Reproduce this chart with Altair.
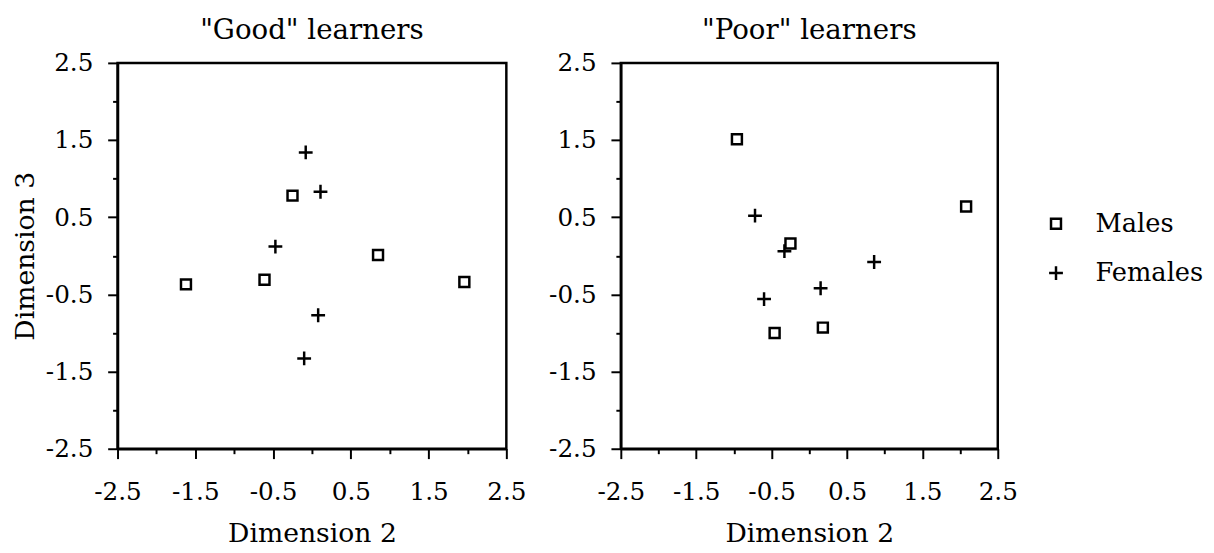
import altair as alt
import pandas as pd

# ---- data ----
series = ["Males", "Females"]

good_male_x = [-1.62, -0.61, -0.25, 0.85, 1.96]
good_male_y = [-0.37, -0.31, 0.78, 0.01, -0.34]
good_female_x = [-0.08, 0.11, -0.47, 0.08, -0.10]
good_female_y = [1.34, 0.83, 0.12, -0.77, -1.33]

poor_male_x = [-0.96, -0.25, -0.46, 0.18, 2.08]
poor_male_y = [1.51, 0.16, -1.00, -0.93, 0.64]
poor_female_x = [-0.72, -0.33, -0.60, 0.15, 0.86]
poor_female_y = [0.52, 0.06, -0.56, -0.42, -0.08]

tick_values = [-2.5, -2.0, -1.5, -1.0, -0.5, 0.0, 0.5, 1.0, 1.5, 2.0, 2.5]
major_values = [-2.5, -1.5, -0.5, 0.5, 1.5, 2.5]

FONT = "DejaVu Serif"
SQUARE = "M-0.72,-0.72H0.72V0.72H-0.72Z"
PLUS = "M-1,0H1M0,-1V1"


def panel_df(mx, my, fx, fy):
    rows = [{"d2": x, "d3": y, "sex": series[0]} for x, y in zip(mx, my)]
    rows += [{"d2": x, "d3": y, "sex": series[1]} for x, y in zip(fx, fy)]
    return pd.DataFrame(rows)


major_list = "[" + ",".join(str(v) for v in major_values) + "]"
is_major = f"indexof({major_list}, datum.value) >= 0"
label_expr = (
    f"{is_major} ? (datum.value < 0 ? '-' + format(-datum.value, '.1f') : "
    "format(datum.value, '.1f')) : ''"
)
tick_size = {"condition": {"test": is_major, "value": 10}, "value": 5}

axis_style = dict(
    values=tick_values, labelExpr=label_expr, tickSize=tick_size,
    labelFlush=False, labelOverlap=False, grid=False,
    labelFont=FONT, labelFontSize=25, labelColor="black",
    titleFont=FONT, titleFontSize=27, titleFontWeight="normal",
    titleColor="black", domainColor="black", domainWidth=2.5,
    tickColor="black", tickWidth=2,
)


def make_panel(df, title, ytitle, width, height, legend):
    x_axis = alt.Axis(title="Dimension 2", labelPadding=21, titlePadding=17,
                      **axis_style)
    if ytitle:
        y_axis = alt.Axis(title=ytitle, labelPadding=15, titlePadding=6,
                          **axis_style)
    else:
        y_axis = alt.Axis(title=None, labelPadding=15, **axis_style)
    scale = alt.Scale(domain=[-2.5, 2.5], nice=False, zero=False)
    return (
        alt.Chart(df)
        .mark_point(filled=False, color="black", strokeWidth=2.5, size=196, opacity=1)
        .encode(
            x=alt.X("d2:Q", scale=scale, axis=x_axis),
            y=alt.Y("d3:Q", scale=scale, axis=y_axis),
            shape=alt.Shape(
                "sex:N",
                scale=alt.Scale(domain=series, range=[SQUARE, PLUS]),
                legend=legend,
            ),
        )
        .properties(
            width=width, height=height,
            title=alt.TitleParams(
                title, font=FONT, fontSize=28, fontWeight="normal",
                color="black", offset=6, anchor="middle",
            ),
        )
    )


legend = alt.Legend(
    title=None, orient="none", legendX=428, legendY=150,
    labelFont=FONT, labelFontSize=26, labelColor="black",
    symbolSize=196, symbolStrokeWidth=2.5, symbolStrokeColor="black",
    symbolFillColor="transparent", rowPadding=24, labelOffset=27, padding=0,
)

left = make_panel(
    panel_df(good_male_x, good_male_y, good_female_x, good_female_y),
    '"Good" learners', "Dimension 3", 394, 391, None,
)
right = make_panel(
    panel_df(poor_male_x, poor_male_y, poor_female_x, poor_female_y),
    '"Poor" learners', None, 382, 391, legend,
)

chart = (
    alt.hconcat(left, right, spacing=19)
    .resolve_scale(shape="independent")
    .properties(padding={"left": 2, "top": 4, "right": 0, "bottom": 0})
    .configure_view(stroke="black", strokeWidth=2.5)
)

chart.save("out.html", embed_options={"renderer": "svg", "actions": False})
